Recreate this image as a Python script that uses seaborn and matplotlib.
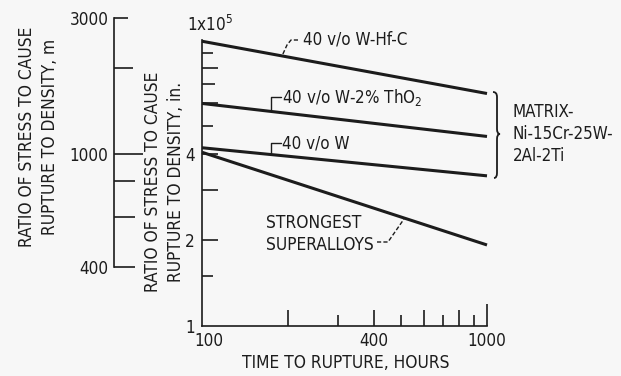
import numpy as np
import pandas as pd
import seaborn as sns
import matplotlib
matplotlib.use("Agg")
import matplotlib.pyplot as plt
import matplotlib.transforms as mtransforms
from matplotlib import font_manager as fm
from matplotlib.font_manager import FontProperties
from matplotlib.textpath import TextToPath
from matplotlib.path import Path
from matplotlib.patches import PathPatch

# ---------------- data ----------------
hours = [100, 1000]
w_hf_c = [99000, 65000]
w_tho2 = [60000, 46000]
w_only = [42000, 33500]
superalloys = [40500, 19200]
series_names = ["40 v/o W-Hf-C", "40 v/o W-2% ThO2", "40 v/o W", "STRONGEST SUPERALLOYS"]

x_ticks = [100, 200, 300, 400, 500, 600, 700, 800, 900, 1000]
x_tick_labels = ["100", "", "", "400", "", "", "", "", "", "1000"]
y_ticks = [10000, 15000, 20000, 30000, 40000, 50000, 60000, 70000, 80000, 90000, 100000]
y_tick_labels = ["1", "", "2", "", "4", "", "", "", "", "", ""]
m_ticks = [400, 600, 800, 1000, 2000, 3000]
m_tick_labels = ["400", "", "", "1000", "", "3000"]

# ---------------- font choice (prefer a condensed sans if one exists) ----------------
FAMILY, STRETCH = "Liberation Sans", "normal"
_cond = [f for f in fm.fontManager.ttflist
         if f.style == "normal" and f.weight in (400, "normal", "regular")
         and (any(k in f.name for k in ("Narrow", "Condensed"))
              or f.stretch in ("condensed", "semi-condensed", 75, 87.5))]
if _cond:
    FAMILY = _cond[0].name
    STRETCH = _cond[0].stretch if isinstance(_cond[0].stretch, str) else "normal"

_ttp = TextToPath()
def fit_size(s, target_px, scale=1.0, hi=14):
    fp = FontProperties(family=[FAMILY, "DejaVu Sans"], stretch=STRETCH, size=10)
    w, _, _ = _ttp.get_text_width_height_descent(s, fp, ismath=False)
    px_per_pt = w * (100 / 72) / 10
    return float(np.clip(target_px / px_per_pt * scale, 9.5, hi))

INK = "#1c1c1c"
BG = "#f7f7f7"
sns.set_theme(style="white")
plt.rcParams["font.family"] = [FAMILY, "DejaVu Sans"]
plt.rcParams["font.stretch"] = STRETCH
plt.rcParams["mathtext.fontset"] = "custom"
plt.rcParams["mathtext.rm"] = FAMILY
plt.rcParams["mathtext.default"] = "regular"
plt.rcParams["text.color"] = INK
plt.rcParams["axes.labelcolor"] = INK

FS_CAP = fit_size("TIME TO RUPTURE, HOURS", 199, 1.04)
FS_TXT = fit_size("40 v/o W-Hf-C", 104)
FS_TICK = fit_size("1000", 34, 1.15, hi=13)

W, H = 621, 376
fig = plt.figure(figsize=(W / 100, H / 100), dpi=100, facecolor=BG)
pix = mtransforms.Affine2D().scale(1 / W, -1 / H).translate(0, 1) + fig.transFigure

# main axes: x 202..487, y 40..326 (pixels)
ax = fig.add_axes([202 / W, (H - 326) / H, (487 - 202) / W, (326 - 40) / H])
ax.set_facecolor("none")

df = pd.DataFrame({
    "hours": hours * 4,
    "ratio": w_hf_c + w_tho2 + w_only + superalloys,
    "series": [s for s in series_names for _ in hours],
})
sns.lineplot(data=df, x="hours", y="ratio", hue="series", palette=[INK] * 4,
             linewidth=2.2, legend=False, ax=ax)
for ln in ax.lines:
    ln.set_clip_on(False)
    ln.set_solid_capstyle("butt")

ax.set_xscale("log")
ax.set_yscale("log")
ax.set_xlim(100, 1000)
ax.set_ylim(10000, 100000)
ax.xaxis.set_minor_locator(matplotlib.ticker.NullLocator())
ax.yaxis.set_minor_locator(matplotlib.ticker.NullLocator())
ax.set_xticks(x_ticks)
ax.set_xticklabels(x_tick_labels)
ax.set_yticks(y_ticks)
ax.set_yticklabels(y_tick_labels)
ax.set_xlabel("")
ax.set_ylabel("")
for s in ["top", "right"]:
    ax.spines[s].set_visible(False)
for s in ["left", "bottom"]:
    ax.spines[s].set_color(INK)
    ax.spines[s].set_linewidth(1.2)
ax.tick_params(axis="both", which="major", direction="in", width=1.2, color=INK,
               labelsize=FS_TICK, labelcolor=INK, left=True, bottom=True,
               top=False, right=False)
ax.tick_params(axis="x", pad=4)
ax.tick_params(axis="y", pad=5)

x_len_px = [0, 16, 11, 16, 11, 16, 11, 16, 11, 22]
for t, L in zip(ax.xaxis.get_major_ticks(), x_len_px):
    t.tick1line.set_markersize(L * 0.72)
y_len_px = [0, 11, 16, 16, 16, 11, 16, 13, 16, 11, 0]
for t, L in zip(ax.yaxis.get_major_ticks(), y_len_px):
    t.tick1line.set_markersize(L * 0.72)
# nudge the "100" label a little right, as in the reference
lbl100 = ax.xaxis.get_major_ticks()[0].label1
lbl100.set_transform(lbl100.get_transform() +
                     mtransforms.ScaledTranslation(7 / 100, 0, fig.dpi_scale_trans))

# secondary (metric) axis: x 114, y 18 (3000) .. 267 (400)
ax2 = fig.add_axes([114 / W, (H - 267) / H, 30 / W, (267 - 18) / H])
ax2.set_facecolor("none")
ax2.set_yscale("log")
ax2.set_ylim(400, 3000)
ax2.yaxis.set_minor_locator(matplotlib.ticker.NullLocator())
ax2.set_yticks(m_ticks)
ax2.set_yticklabels(m_tick_labels)
ax2.set_xticks([])
for s in ["top", "right", "bottom"]:
    ax2.spines[s].set_visible(False)
ax2.spines["left"].set_color(INK)
ax2.spines["left"].set_linewidth(1.2)
ax2.tick_params(axis="y", direction="in", width=1.2, color=INK, left=True, right=False,
                labelsize=FS_TICK, labelcolor=INK, pad=4)
m_len_px = [21, 21, 21, 29, 19, 14]
for t, L in zip(ax2.yaxis.get_major_ticks(), m_len_px):
    t.tick1line.set_markersize(L * 0.72)

# ---------------- texts ----------------
fig.text(187, 31, "1x10$^5$", transform=pix, ha="left", va="baseline", fontsize=FS_TICK)
fig.text(346, 363, "TIME TO RUPTURE, HOURS", transform=pix, ha="center", va="center",
         fontsize=FS_CAP)
fig.text(164.5, 182, "RATIO OF STRESS TO CAUSE\nRUPTURE TO DENSITY, in.", transform=pix,
         ha="center", va="center", rotation=90, fontsize=FS_CAP, multialignment="center",
         linespacing=1.3)
fig.text(38.5, 137, "RATIO OF STRESS TO CAUSE\nRUPTURE TO DENSITY, m", transform=pix,
         ha="center", va="center", rotation=90, fontsize=FS_CAP, multialignment="center",
         linespacing=1.3)

fig.text(303, 45, "40 v/o W-Hf-C", transform=pix, ha="left", va="baseline", fontsize=FS_TXT)
fig.text(282, 103, "40 v/o W-2% ThO$_2$", transform=pix, ha="left", va="baseline",
         fontsize=FS_TXT)
fig.text(282, 148, "40 v/o W", transform=pix, ha="left", va="baseline", fontsize=FS_TXT)
fig.text(266, 228, "STRONGEST", transform=pix, ha="left", va="baseline", fontsize=FS_CAP)
fig.text(266, 250, "SUPERALLOYS", transform=pix, ha="left", va="baseline", fontsize=FS_CAP)
fig.text(513, 134, "MATRIX-\nNi-15Cr-25W-\n2Al-2Ti", transform=pix, ha="left",
         va="center", fontsize=FS_TXT, linespacing=1.3)

# leader lines
def leader(xs, ys, dashed):
    ls = (0, (3, 1.6)) if dashed else "-"
    fig.add_artist(plt.Line2D(xs, ys, transform=pix, color=INK, lw=1.0, linestyle=ls))

leader([298, 291, 287, 282], [40, 40, 45, 56], True)
leader([281, 271, 271], [97, 97, 110], False)
leader([281, 271, 271], [143, 143, 153], False)
leader([377, 388, 404], [242, 242, 219], True)

# brace
verts = [(493, 92), (497, 92), (497, 97), (497, 129), (497, 134), (500, 134),
         (497, 134), (497, 139), (497, 173), (497, 178), (494, 178)]
codes = [Path.MOVETO, Path.CURVE3, Path.CURVE3, Path.LINETO, Path.CURVE3, Path.CURVE3,
         Path.CURVE3, Path.CURVE3, Path.LINETO, Path.CURVE3, Path.CURVE3]
fig.add_artist(PathPatch(Path(verts, codes), transform=pix, facecolor="none",
                         edgecolor=INK, lw=1.3))

fig.savefig("out.png", dpi=100, facecolor=BG)
